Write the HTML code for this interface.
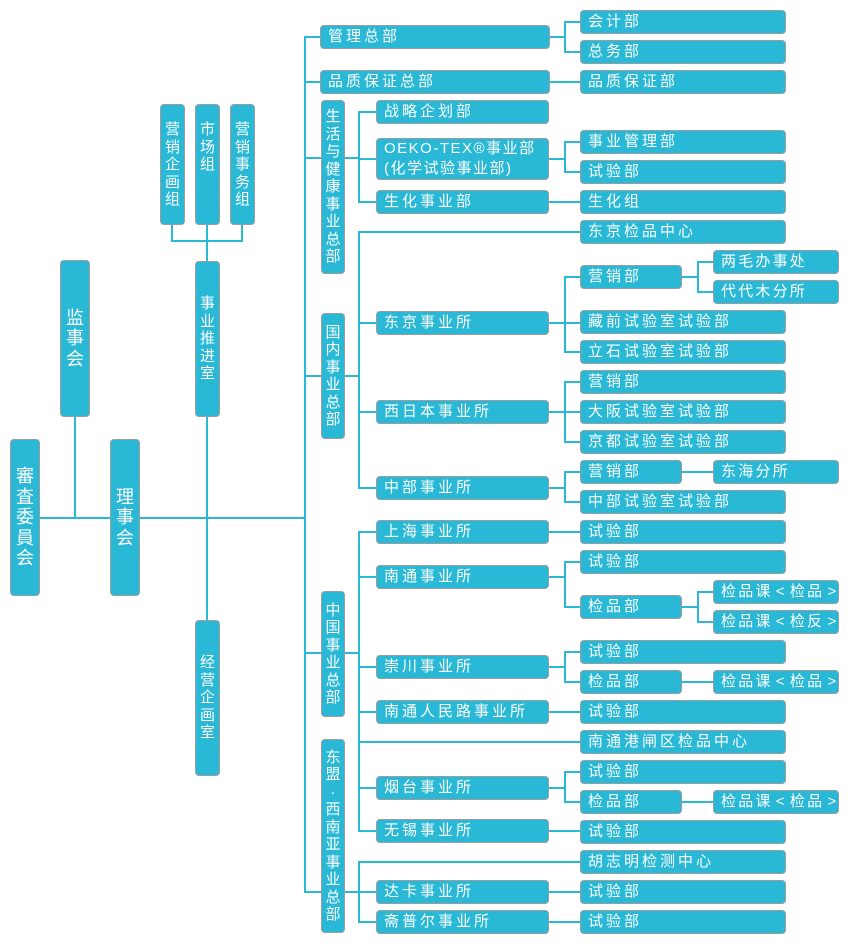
<!DOCTYPE html>
<html><head><meta charset="utf-8">
<style>
html,body{margin:0;padding:0;background:#fff;}
#c{position:relative;width:850px;height:946px;overflow:hidden;background:#fff;}
svg{position:absolute;left:0;top:0;}
.b{position:absolute;box-sizing:border-box;background:#29b9d6;border:1px solid #9c9c9c;border-radius:4px;color:#fff;font-family:"Liberation Sans","Noto Sans CJK SC",sans-serif;font-size:15px;line-height:22px;letter-spacing:3px;padding-left:7px;white-space:nowrap;}
.c4{letter-spacing:2.2px;word-spacing:-3.2px;}
.v{padding:0;letter-spacing:0;text-align:center;display:flex;flex-direction:column;justify-content:center;align-items:center;line-height:17.5px;}
.vt{justify-content:flex-start;padding-top:16px;}
.vl{font-size:18px;line-height:20.6px;}
.oe{letter-spacing:1.5px;line-height:20px;}
</style></head><body><div id="c">
<svg width="850" height="946" viewBox="0 0 850 946">
<path fill="none" stroke="#29b9d6" stroke-width="2" stroke-linecap="square" d="
M40,518 H110 M75,417 V518 M140,518 H305
M172,225 V241 H242 V225 M207,225 V261 M207,417 V620
M305,37 V892 M305,37 H320 M305,82 H320 M305,158 H321 M305,376 H321 M305,653 H321 M305,892 H321
M345,158 H359 M359,112 V202 M359,112 H376 M359,159 H376 M359,202 H376
M345,376 H359 M359,232 V488 M359,232 H580 M359,323 H376 M359,412 H376 M359,488 H376
M345,653 H359 M359,532 V831 M359,532 H376 M359,577 H376 M359,667 H376 M359,712 H376 M359,788 H376 M359,831 H376 M359,742 H580
M345,892 H376 M359,862 V922 M359,862 H580 M359,922 H376
M549,37 H565 M565,22 V52 M565,22 H580 M565,52 H580
M549,82 H580
M549,159 H565 M565,142 V172 M565,142 H580 M565,172 H580
M549,202 H580
M549,323 H580 M565,277 V352 M565,277 H580 M565,352 H580
M682,277 H698 M698,262 V292 M698,262 H713 M698,292 H713
M549,412 H580 M565,382 V442 M565,382 H580 M565,442 H580
M549,488 H565 M565,472 V502 M565,472 H580 M565,502 H580 M682,472 H713
M549,532 H580
M549,577 H565 M565,562 V607 M565,562 H580 M565,607 H580
M682,607 H698 M698,592 V622 M698,592 H713 M698,622 H713
M549,667 H565 M565,652 V682 M565,652 H580 M565,682 H580 M682,682 H713
M549,712 H580
M549,788 H565 M565,772 V802 M565,772 H580 M565,802 H580 M682,802 H713
M549,831 H580
M549,892 H580
M549,922 H580
"/>
</svg>

<!-- left vertical boxes -->
<div class="b v vl" style="left:10px;top:439px;width:30px;height:157px;"><div>審<br>査<br>委<br>員<br>会</div></div>
<div class="b v vl" style="left:110px;top:439px;width:30px;height:157px;"><div>理<br>事<br>会</div></div>
<div class="b v vl" style="left:60px;top:260px;width:30px;height:157px;"><div>监<br>事<br>会</div></div>
<div class="b v vt" style="left:160px;top:104px;width:25px;height:121px;"><div>营<br>销<br>企<br>画<br>组</div></div>
<div class="b v vt" style="left:195px;top:104px;width:25px;height:121px;"><div>市<br>场<br>组</div></div>
<div class="b v vt" style="left:230px;top:104px;width:25px;height:121px;"><div>营<br>销<br>事<br>务<br>组</div></div>
<div class="b v" style="left:195px;top:261px;width:25px;height:156px;"><div>事<br>业<br>推<br>进<br>室</div></div>
<div class="b v" style="left:195px;top:620px;width:25px;height:156px;"><div>经<br>营<br>企<br>画<br>室</div></div>

<!-- division vertical boxes -->
<div class="b v" style="left:321px;top:100px;width:24px;height:174px;"><div>生<br>活<br>与<br>健<br>康<br>事<br>业<br>总<br>部</div></div>
<div class="b v" style="left:321px;top:313px;width:24px;height:126px;"><div>国<br>内<br>事<br>业<br>总<br>部</div></div>
<div class="b v" style="left:321px;top:591px;width:24px;height:126px;"><div>中<br>国<br>事<br>业<br>总<br>部</div></div>
<div class="b v" style="left:321px;top:739px;width:24px;height:194px;"><div>东<br>盟<br>·<br>西<br>南<br>亚<br>事<br>业<br>总<br>部</div></div>

<!-- column 1 -->
<div class="b" style="left:320px;top:25px;width:230px;height:24px;">管理总部</div>
<div class="b" style="left:320px;top:70px;width:230px;height:24px;">品质保证总部</div>

<!-- column 2 -->
<div class="b" style="left:376px;top:100px;width:173px;height:24px;">战略企划部</div>
<div class="b oe" style="left:376px;top:138px;width:173px;height:42px;">OEKO-TEX®事业部<br>(化学试验事业部)</div>
<div class="b" style="left:376px;top:190px;width:173px;height:24px;">生化事业部</div>
<div class="b" style="left:376px;top:311px;width:173px;height:24px;">东京事业所</div>
<div class="b" style="left:376px;top:400px;width:173px;height:24px;">西日本事业所</div>
<div class="b" style="left:376px;top:476px;width:173px;height:24px;">中部事业所</div>
<div class="b" style="left:376px;top:520px;width:173px;height:24px;">上海事业所</div>
<div class="b" style="left:376px;top:565px;width:173px;height:24px;">南通事业所</div>
<div class="b" style="left:376px;top:655px;width:173px;height:24px;">崇川事业所</div>
<div class="b" style="left:376px;top:700px;width:173px;height:24px;">南通人民路事业所</div>
<div class="b" style="left:376px;top:776px;width:173px;height:24px;">烟台事业所</div>
<div class="b" style="left:376px;top:819px;width:173px;height:24px;">无锡事业所</div>
<div class="b" style="left:376px;top:880px;width:173px;height:24px;">达卡事业所</div>
<div class="b" style="left:376px;top:910px;width:173px;height:24px;">斋普尔事业所</div>

<!-- column 3 -->
<div class="b" style="left:580px;top:10px;width:206px;height:24px;">会计部</div>
<div class="b" style="left:580px;top:40px;width:206px;height:24px;">总务部</div>
<div class="b" style="left:580px;top:70px;width:206px;height:24px;">品质保证部</div>
<div class="b" style="left:580px;top:130px;width:206px;height:24px;">事业管理部</div>
<div class="b" style="left:580px;top:160px;width:206px;height:24px;">试验部</div>
<div class="b" style="left:580px;top:190px;width:206px;height:24px;">生化组</div>
<div class="b" style="left:580px;top:220px;width:206px;height:24px;">东京检品中心</div>
<div class="b" style="left:580px;top:265px;width:102px;height:24px;">营销部</div>
<div class="b" style="left:580px;top:310px;width:206px;height:24px;">藏前试验室试验部</div>
<div class="b" style="left:580px;top:340px;width:206px;height:24px;">立石试验室试验部</div>
<div class="b" style="left:580px;top:370px;width:206px;height:24px;">营销部</div>
<div class="b" style="left:580px;top:400px;width:206px;height:24px;">大阪试验室试验部</div>
<div class="b" style="left:580px;top:430px;width:206px;height:24px;">京都试验室试验部</div>
<div class="b" style="left:580px;top:460px;width:102px;height:24px;">营销部</div>
<div class="b" style="left:580px;top:490px;width:206px;height:24px;">中部试验室试验部</div>
<div class="b" style="left:580px;top:520px;width:206px;height:24px;">试验部</div>
<div class="b" style="left:580px;top:550px;width:206px;height:24px;">试验部</div>
<div class="b" style="left:580px;top:595px;width:102px;height:24px;">检品部</div>
<div class="b" style="left:580px;top:640px;width:206px;height:24px;">试验部</div>
<div class="b" style="left:580px;top:670px;width:102px;height:24px;">检品部</div>
<div class="b" style="left:580px;top:700px;width:206px;height:24px;">试验部</div>
<div class="b" style="left:580px;top:730px;width:206px;height:24px;">南通港闸区检品中心</div>
<div class="b" style="left:580px;top:760px;width:206px;height:24px;">试验部</div>
<div class="b" style="left:580px;top:790px;width:102px;height:24px;">检品部</div>
<div class="b" style="left:580px;top:820px;width:206px;height:24px;">试验部</div>
<div class="b" style="left:580px;top:850px;width:206px;height:24px;">胡志明检测中心</div>
<div class="b" style="left:580px;top:880px;width:206px;height:24px;">试验部</div>
<div class="b" style="left:580px;top:910px;width:206px;height:24px;">试验部</div>

<!-- column 4 -->
<div class="b c4" style="left:713px;top:250px;width:126px;height:24px;">两毛办事处</div>
<div class="b c4" style="left:713px;top:280px;width:126px;height:24px;">代代木分所</div>
<div class="b c4" style="left:713px;top:460px;width:126px;height:24px;">东海分所</div>
<div class="b c4" style="left:713px;top:580px;width:126px;height:24px;">检品课 &lt; 检品 &gt;</div>
<div class="b c4" style="left:713px;top:610px;width:126px;height:24px;">检品课 &lt; 检反 &gt;</div>
<div class="b c4" style="left:713px;top:670px;width:126px;height:24px;">检品课 &lt; 检品 &gt;</div>
<div class="b c4" style="left:713px;top:790px;width:126px;height:24px;">检品课 &lt; 检品 &gt;</div>
</div></body></html>
